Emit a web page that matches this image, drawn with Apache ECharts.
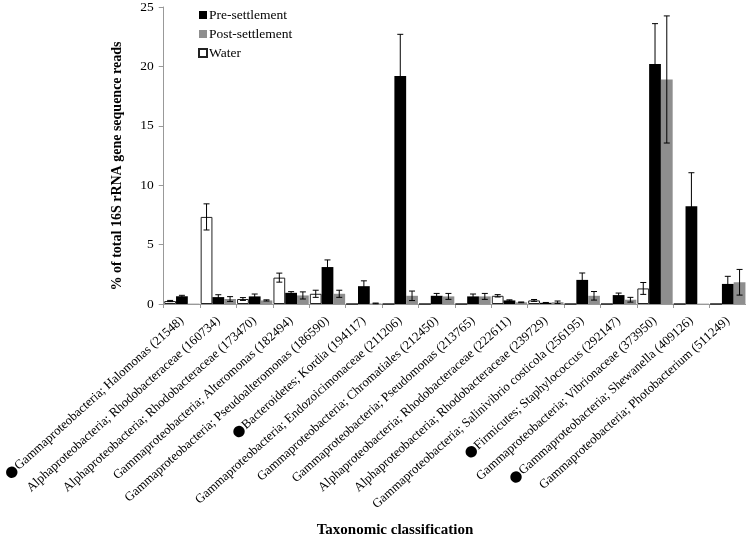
<!DOCTYPE html>
<html>
<head>
<meta charset="utf-8">
<script src="https://cdn.jsdelivr.net/npm/echarts@6/dist/echarts.min.js"></script>
<style>html,body{margin:0;padding:0;background:#fff;}#c{width:746px;height:544px;}</style>
</head>
<body>
<div id="c"></div>
<script>
var categories = [
  'Gammaproteobacteria; Halomonas (21548)',
  'Alphaproteobacteria; Rhodobacteraceae (160734)',
  'Alphaproteobacteria; Rhodobacteraceae (173470)',
  'Gammaproteobacteria; Alteromonas (182494)',
  'Gammaproteobacteria; Pseudoalteromonas (186590)',
  'Bacteroidetes; Kordia (194117)',
  'Gammaproteobacteria; Endozoicimonaceae (211206)',
  'Gammaproteobacteria; Chromatiales (212450)',
  'Gammaproteobacteria; Pseudomonas (213765)',
  'Alphaproteobacteria; Rhodobacteraceae (222611)',
  'Alphaproteobacteria; Rhodobacteraceae (239729)',
  'Gammaproteobacteria; Salinivibrio costicola (256195)',
  'Firmicutes; Staphylococcus (292147)',
  'Gammaproteobacteria; Vibrionaceae (373950)',
  'Gammaproteobacteria; Shewanella (409126)',
  'Gammaproteobacteria; Photobacterium (511249)'
];
var marked = [0, 5, 12, 14];
var seriesNames = ['Pre-settlement', 'Post-settlement', 'Water'];
var water    = [0.25, 7.33, 0.42, 2.22, 0.86, 0, 0, 0, 0, 0.69, 0.30, 0, 0, 1.31, 0, 0];
var waterErr = [0.05, 1.1, 0.12, 0.38, 0.3, 0, 0, 0, 0, 0.1, 0.08, 0, 0, 0.5, 0, 0];
var pre      = [0.65, 0.58, 0.64, 0.94, 3.11, 1.5, 19.2, 0.69, 0.64, 0.3, 0.1, 2.03, 0.75, 20.2, 8.22, 1.69];
var preErr   = [0.08, 0.2, 0.2, 0.1, 0.6, 0.45, 3.5, 0.2, 0.2, 0.05, 0.03, 0.58, 0.17, 3.4, 2.83, 0.64];
var post     = [0.03, 0.42, 0.3, 0.72, 0.86, 0.05, 0.69, 0.64, 0.64, 0.14, 0.15, 0.69, 0.36, 18.9, 0.03, 1.83];
var postErr  = [0, 0.2, 0.05, 0.3, 0.3, 0.03, 0.4, 0.25, 0.25, 0.03, 0.1, 0.36, 0.2, 5.35, 0, 1.08];
var yTicks = [0, 5, 10, 15, 20, 25];

var SERIF = "'Liberation Serif','Times New Roman',serif";
var GAP = 0.03;

// bar order inside each group: Water, Pre, Post
var groups = [
  {vals: water, errs: waterErr},
  {vals: pre, errs: preErr},
  {vals: post, errs: postErr}
];
var errData = [];
groups.forEach(function (g, k) {
  g.vals.forEach(function (v, i) {
    if (g.errs[i] > 0) errData.push([i, v, g.errs[i], k]);
  });
});

var chart = echarts.init(document.getElementById('c'), null, {renderer: 'canvas'});
chart.setOption({
  animation: false,
  backgroundColor: '#fff',
  grid: {left: 152, right: 0, top: 4, bottom: 240, containLabel: false},
  legend: {
    orient: 'vertical', left: 193, top: 3, itemWidth: 8, itemHeight: 8, itemGap: 5,
    icon: 'rect',
    data: seriesNames,
    textStyle: {fontFamily: SERIF, fontSize: 13.5, color: '#000', padding: [0, 0, 0, -3]}
  },
  xAxis: {
    type: 'category',
    data: categories,
    axisLine: {lineStyle: {color: '#999', width: 1}},
    axisTick: {show: true, length: 4, interval: 0, lineStyle: {color: '#999'}},
    axisLabel: {
      interval: 0, rotate: 42, margin: 15,
      fontFamily: SERIF, fontSize: 12.8, color: '#000',
      formatter: function (v, i) {
        return (marked.indexOf(i) >= 0 ? '{b|●}' : '') + v;
      },
      rich: {b: {fontFamily: 'DejaVu Sans', fontSize: 15, color: '#000'}}
    }
  },
  yAxis: {
    type: 'value', min: yTicks[0], max: yTicks[yTicks.length - 1], interval: 5,
    axisLine: {show: true, lineStyle: {color: '#999'}},
    axisTick: {show: true, length: 5, lineStyle: {color: '#999'}},
    splitLine: {show: false},
    axisLabel: {fontFamily: SERIF, fontSize: 13.5, color: '#000', margin: 10}
  },
  graphic: [{
    type: 'text', x: 117, y: 166, rotation: Math.PI / 2,
    style: {text: '% of total 16S rRNA gene sequence reads', font: 'bold 14px ' + SERIF, fill: '#000',
      textAlign: 'center', textVerticalAlign: 'middle'}
  }, {
    type: 'text', x: 395, y: 530,
    style: {text: 'Taxonomic classification', font: 'bold 15px ' + SERIF, fill: '#000',
      textAlign: 'center', textVerticalAlign: 'middle'}
  }],
  series: [
    {name: 'Water', type: 'bar', data: water, barGap: '0%', barCategoryGap: (GAP * 100) + '%',
      itemStyle: {color: '#fff', borderColor: '#222', borderWidth: 1}},
    {name: 'Pre-settlement', type: 'bar', data: pre, barGap: '0%', barCategoryGap: (GAP * 100) + '%',
      itemStyle: {color: '#000'}},
    {name: 'Post-settlement', type: 'bar', data: post, barGap: '0%', barCategoryGap: (GAP * 100) + '%',
      itemStyle: {color: '#8e8e8e'}},
    {
      type: 'custom', z: 10, silent: true,
      data: errData,
      encode: {x: 0, y: 1},
      renderItem: function (params, api) {
        var i = api.value(0), v = api.value(1), e = api.value(2), k = api.value(3);
        var band = api.size([1, 0])[0];
        var bw = band * (1 - GAP) / 3;
        var cx = api.coord([i, 0])[0] - band * (1 - GAP) / 2 + bw * (k + 0.5);
        var top = api.coord([i, v + e])[1];
        var bot = api.coord([i, Math.max(v - e, 0)])[1];
        var cap = 3;
        var st = {stroke: '#000', lineWidth: 1};
        return {type: 'group', children: [
          {type: 'line', shape: {x1: cx, y1: top, x2: cx, y2: bot}, style: st},
          {type: 'line', shape: {x1: cx - cap, y1: top, x2: cx + cap, y2: top}, style: st},
          {type: 'line', shape: {x1: cx - cap, y1: bot, x2: cx + cap, y2: bot}, style: st}
        ]};
      }
    }
  ]
});
</script>
</body>
</html>
